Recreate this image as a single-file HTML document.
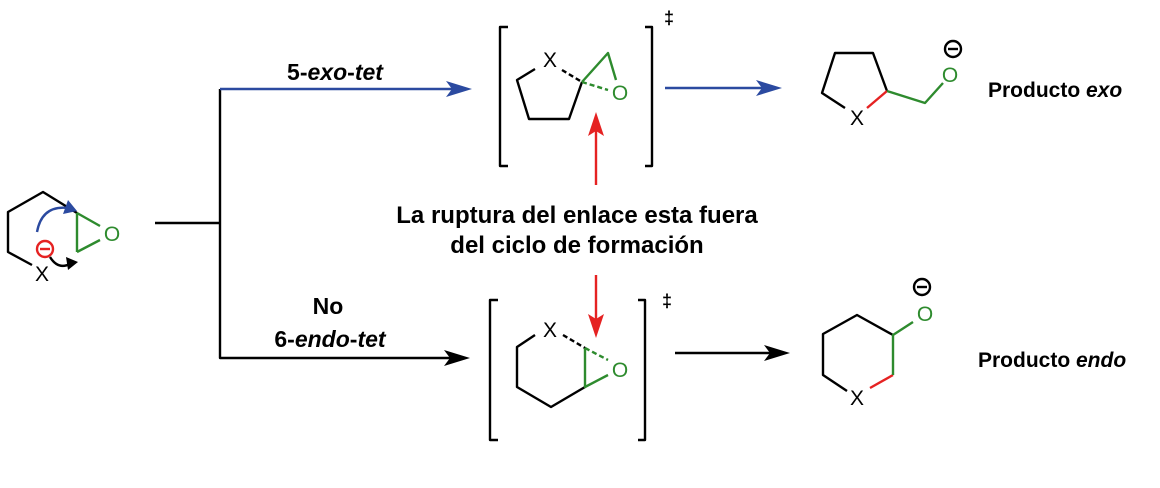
<!DOCTYPE html>
<html><head><meta charset="utf-8"><style>
html,body{margin:0;padding:0;background:#fff;}
svg{display:block;}
text{font-family:"Liberation Sans",Arial,sans-serif;}
</style></head><body>
<svg width="1160" height="488" viewBox="0 0 1160 488" xmlns="http://www.w3.org/2000/svg">
<g fill="none" stroke-width="2.4" stroke-linejoin="round">
<!-- starting material -->
<path d="M32,265 L8,252 L8,212 L43,192 L77,213" stroke="#000"/>
<path d="M77,213 L77,252 M77,213 L100,226 M77,252 L100,240" stroke="#2e8b2e"/>
<circle cx="45" cy="249" r="8" stroke="#e52222"/>
<line x1="40" y1="249" x2="50" y2="249" stroke="#e52222"/>
<path d="M37,232 Q42,205 68,208" stroke="#2b4aa0"/>
<path d="M50,257 Q58,270 70,264" stroke="#000"/>
<!-- connectors -->
<path d="M155,223 L220,223 M220,89 L220,358 L455,358" stroke="#000"/>
<path d="M220,89 L455,89" stroke="#2b4aa0"/>
<path d="M665,88 L765,88" stroke="#2b4aa0"/>
<path d="M675,353 L775,353" stroke="#000"/>
<path d="M596,185 L596,128 M596,275 L596,322" stroke="#e52222"/>
<!-- TS1 -->
<path d="M508,27 L500,27 L500,166 L508,166 M645,27 L652,27 L652,166 L645,166" stroke="#000"/>
<path d="M535,69 L517,80 L529,119 L569,119 L582,82" stroke="#000"/>
<path d="M562,70 L582,82" stroke="#000" stroke-dasharray="5,3"/>
<path d="M582,82 L608,53 L616,80" stroke="#2e8b2e"/>
<path d="M582,82 L608,90" stroke="#2e8b2e" stroke-dasharray="5,3"/>
<!-- TS2 -->
<path d="M498,300 L490,300 L490,440 L498,440 M638,300 L645,300 L645,440 L638,440" stroke="#000"/>
<path d="M535,335 L517,347 L517,387 L551,407 L585,387" stroke="#000"/>
<path d="M563,335 L585,348" stroke="#000" stroke-dasharray="5,3"/>
<path d="M585,348 L585,387 L608,375" stroke="#2e8b2e"/>
<path d="M585,348 L608,360" stroke="#2e8b2e" stroke-dasharray="5,3"/>
<!-- product exo -->
<path d="M845,108 L822,93 L835,53 L873,53 L887,91" stroke="#000"/>
<path d="M867,108 L887,91" stroke="#e52222"/>
<path d="M887,91 L925,103 L943,83" stroke="#2e8b2e"/>
<circle cx="953" cy="49" r="8" stroke="#000"/>
<line x1="948" y1="49" x2="958" y2="49" stroke="#000"/>
<!-- product endo -->
<path d="M847,391 L823,375 L823,334 L857,315 L893,335" stroke="#000"/>
<path d="M870,388 L893,375" stroke="#e52222"/>
<path d="M893,375 L893,335 L913,322" stroke="#2e8b2e"/>
<circle cx="922" cy="287" r="8" stroke="#000"/>
<line x1="917" y1="287" x2="927" y2="287" stroke="#000"/>
</g>
<!-- arrowheads -->
<path d="M472,89 L446,81 L452,89 L446,97 Z" fill="#2b4aa0"/>
<path d="M782,88 L756,80 L762,88 L756,96 Z" fill="#2b4aa0"/>
<path d="M470,358 L444,350 L450,358 L444,366 Z" fill="#000"/>
<path d="M790,353 L764,345 L770,353 L764,361 Z" fill="#000"/>
<path d="M596,112 L588,136 L596,131 L604,136 Z" fill="#e52222"/>
<path d="M596,338 L588,314 L596,319 L604,314 Z" fill="#e52222"/>
<path d="M68,200 L77,211 L63,214 Z" fill="#2b4aa0"/>
<path d="M78,262 L66,257 L68,270 Z" fill="#000"/>
<!-- labels -->
<g font-size="21">
<text x="42" y="281" text-anchor="middle">X</text>
<text x="112" y="241" text-anchor="middle" fill="#2e8b2e">O</text>
<text x="550" y="67" text-anchor="middle">X</text>
<text x="620" y="100" text-anchor="middle" fill="#2e8b2e">O</text>
<text x="550" y="337" text-anchor="middle">X</text>
<text x="620" y="377" text-anchor="middle" fill="#2e8b2e">O</text>
<text x="857" y="125" text-anchor="middle">X</text>
<text x="950" y="82" text-anchor="middle" fill="#2e8b2e">O</text>
<text x="857" y="405" text-anchor="middle">X</text>
<text x="925" y="321" text-anchor="middle" fill="#2e8b2e">O</text>
</g>
<g font-weight="bold" font-size="23">
<text x="335" y="80" text-anchor="middle">5-<tspan font-style="italic">exo</tspan>-<tspan font-style="italic">tet</tspan></text>
<text x="328" y="314" text-anchor="middle">No</text>
<text x="330" y="347" text-anchor="middle">6-<tspan font-style="italic">endo</tspan>-<tspan font-style="italic">tet</tspan></text>
<text x="577" y="223" text-anchor="middle" font-size="24">La ruptura del enlace esta fuera</text>
<text x="577" y="253" text-anchor="middle" font-size="24">del ciclo de formación</text>
<text x="988" y="97" font-size="21">Producto <tspan font-style="italic">exo</tspan></text>
<text x="978" y="367" font-size="21">Producto <tspan font-style="italic">endo</tspan></text>
<text x="664" y="24" font-size="18">‡</text>
<text x="662" y="307" font-size="18">‡</text>
</g>
</svg>
</body></html>
